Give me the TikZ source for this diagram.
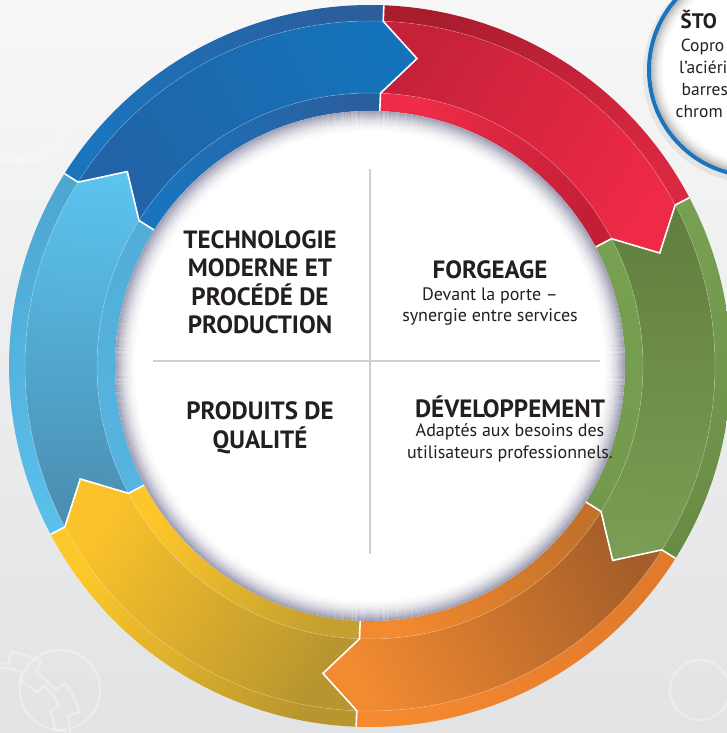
\documentclass[tikz,border=0pt]{standalone}
\usepackage{fontspec}
\setmainfont{PT Sans}
\definecolor{txt}{HTML}{231F20}
\definecolor{bgtop}{HTML}{F7F7F7}
\definecolor{bgbot}{HTML}{E2E3E5}
\definecolor{rOa}{HTML}{A91C2E}\definecolor{rOb}{HTML}{D92841}
\definecolor{rMa}{HTML}{C6213A}\definecolor{rMb}{HTML}{EE2A46}
\definecolor{rIa}{HTML}{EE2C48}\definecolor{rIb}{HTML}{C21F36}
\definecolor{gOa}{HTML}{78A053}\definecolor{gOb}{HTML}{688B44}
\definecolor{gMa}{HTML}{617E3D}\definecolor{gMb}{HTML}{7A9E53}
\definecolor{gIa}{HTML}{77A051}\definecolor{gIb}{HTML}{73994D}
\definecolor{oOa}{HTML}{E27A2C}\definecolor{oOb}{HTML}{F4892F}
\definecolor{oMa}{HTML}{A55E29}\definecolor{oMb}{HTML}{F18A31}
\definecolor{oIa}{HTML}{C4722A}\definecolor{oIb}{HTML}{F38A30}
\definecolor{yOa}{HTML}{B8952E}\definecolor{yOb}{HTML}{FDC82A}
\definecolor{yMa}{HTML}{B7952F}\definecolor{yMb}{HTML}{FBC32B}
\definecolor{yIa}{HTML}{C5A030}\definecolor{yIb}{HTML}{FDC62A}
\definecolor{lOa}{HTML}{5BC0EC}\definecolor{lOb}{HTML}{4EA6CF}
\definecolor{lMa}{HTML}{4A8DB0}\definecolor{lMb}{HTML}{5BC4EF}
\definecolor{lIa}{HTML}{56B4E0}\definecolor{lIb}{HTML}{52AED8}
\definecolor{bOa}{HTML}{1A75BF}\definecolor{bOb}{HTML}{2A5E9D}
\definecolor{bMa}{HTML}{2163A6}\definecolor{bMb}{HTML}{1473BA}
\definecolor{bIa}{HTML}{1A74BD}\definecolor{bIb}{HTML}{2A5F9F}
\definecolor{boxblue}{HTML}{1C75BC}
\definecolor{divline}{HTML}{CFCFCF}
\def\Ro{361}\def\Rb{345}\def\Rm{311}\def\Rc{273}\def\Rd{255}
\newcommand\ringseg[7]{%
  \pgfmathsetmacro\segA{#1}%
  \pgfmathsetmacro\segB{#1-60}%
  \pgfmathsetmacro\segT{#1-66.5}%
  \pgfmathsetmacro\segN{#1-6.5}%
  \pgfmathsetmacro\segS{#1-210}%
  \shade[bottom color=#2,top color=#3,shading angle=\segS]
    (\segA:\Ro) arc[start angle=\segA,end angle=\segB,radius=\Ro]
    -- (\segB:\Rb) arc[start angle=\segB,end angle=\segA,radius=\Rb] -- cycle;
  \shade[bottom color=#4,top color=#5,shading angle=\segS]
    (\segA:\Rb) arc[start angle=\segA,end angle=\segB,radius=\Rb]
    -- (\segT:\Rm) -- (\segB:\Rc)
    arc[start angle=\segB,end angle=\segA,radius=\Rc] -- (\segN:\Rm) -- cycle;
  \shade[bottom color=#6,top color=#7,shading angle=\segS]
    (\segA:\Rc) arc[start angle=\segA,end angle=\segB,radius=\Rc]
    -- (\segB:\Rd) arc[start angle=\segB,end angle=\segA,radius=\Rd] -- cycle;
}
\newcommand\seamline[1]{%
  \pgfmathsetmacro\seamN{#1-6.5}%
  \draw[seam] (#1:\Ro) -- (#1:\Rb) -- (\seamN:\Rm) -- (#1:\Rc) -- (#1:\Rd);
}
\begin{document}
\begin{tikzpicture}[x=1pt,y=1pt,
  head/.style={font=\fontsize{25}{30}\selectfont\bfseries, text=txt, inner sep=0pt},
  body/.style={font=\fontsize{18}{22}\selectfont, text=txt, inner sep=0pt},
  cbody/.style={font=\fontsize{17.5}{22}\selectfont, text=txt, inner sep=0pt, anchor=base west},
  seam/.style={white, line width=1.6pt, line join=miter},
  gear/.style={white, line width=2.5pt, opacity=0.3},
  divider/.style={divline, line width=1.4pt}]
\useasboundingbox (0,0) rectangle (727,733);
\begin{scope}
\clip (0,0) rectangle (727,733);
\shade[top color=bgtop, bottom color=bgbot] (0,0) rectangle (727,733);
% faint gears
\draw[gear] plot[domain=0:360,samples=361,variable=\t] ({60+(\t:{70+12*(sin(8*\t)>=0)})}) -- cycle;
\draw[gear] (60,43) circle (40);
\draw[gear] plot[domain=0:360,samples=361,variable=\t] ({700+(\t:{55+10*(sin(8*\t)>=0)})}) -- cycle;
\draw[gear] (700,43) circle (30);
\draw[black!4, line width=10pt] (20,623) circle (50);
% ring
\begin{scope}[shift={(370,367)}]
  \ringseg{87.8}{rOa}{rOb}{rMa}{rMb}{rIa}{rIb}
  \ringseg{27.8}{gOa}{gOb}{gMa}{gMb}{gIa}{gIb}
  \ringseg{-32.2}{oOa}{oOb}{oMa}{oMb}{oIa}{oIb}
  \ringseg{-92.2}{yOa}{yOb}{yMa}{yMb}{yIa}{yIb}
  \ringseg{-152.2}{lOa}{lOb}{lMa}{lMb}{lIa}{lIb}
  \ringseg{147.8}{bOa}{bOb}{bMa}{bMb}{bIa}{bIb}
  \draw[white, opacity=0.3, line width=0.5pt] (0,0) circle (\Rb) (0,0) circle (\Rc);
  \foreach \s in {87.8,27.8,-32.2,-92.2,-152.2,147.8} {\seamline{\s}}
  % white disc with rim shadow
  \fill[white] (0,0) circle (\Rd);
  \foreach \i in {0,...,21} {
    \pgfmathsetmacro\op{0.42*((22-\i)/22)^2}
    \draw[black!70!blue!60!gray, draw opacity=\op, line width=1.1pt] (0,0) circle ({\Rd-\i-0.5});
  }
\end{scope}
% dividers
\coordinate (hl) at (153,372);
\coordinate (hr) at (600,372);
\coordinate (vt) at (370,564);
\coordinate (vb) at (370,179);
\draw[divider] (hl) -- (hr);
\draw[divider] (vt) -- (vb);
% texts
\node[head, anchor=base] (t1) at (260,484) {TECHNOLOGIE};
\node[head, anchor=base] (t2) at (260,456) {MODERNE ET};
\node[head, anchor=base] (t3) at (260,427) {PROCÉDÉ DE};
\node[head, anchor=base] (t4) at (260,399) {PRODUCTION};
\node[head, anchor=base] (f1) at (490,454) {FORGEAGE};
\node[body, anchor=base] (f2) at (490,432) {Devant la porte –};
\node[body, anchor=base] (f3) at (490,411) {synergie entre services};
\node[head, anchor=base] (q1) at (260,313) {PRODUITS DE};
\node[head, anchor=base] (q2) at (260,284.5) {QUALITÉ};
\node[head, anchor=base] (d1) at (510,315) {DÉVELOPPEMENT};
\node[body, anchor=base] (d2) at (510,296) {Adaptés aux besoins des};
\node[body, anchor=base] (d3) at (510,274) {utilisateurs professionnels.};
% top-right circle
\begin{scope}
  \fill[black, opacity=0.06] (753,660) circle (110);
  \fill[white] (755,663) circle (106);
  \foreach \i in {0,...,13} {
    \pgfmathsetmacro\op{0.28*((14-\i)/14)^2}
    \draw[black!70!gray, draw opacity=\op, line width=1.1pt] (755,663) circle ({104-\i-0.5});
  }
  \draw[boxblue, line width=4pt] (755,663) circle (106);
  \node[font=\fontsize{21}{24}\selectfont\bfseries, text=txt, inner sep=0pt, anchor=base west] (s1) at (680.5,704) {ŠTO};
  \node[cbody] (s2) at (680.6,681) {Copro};
  \node[cbody] (s3) at (679,659) {l’aciéri};
  \node[cbody] (s4) at (681.5,637) {barres};
  \node[cbody] (s5) at (675.5,615) {chrom};
\end{scope}
\end{scope}
\end{tikzpicture}
\end{document}
